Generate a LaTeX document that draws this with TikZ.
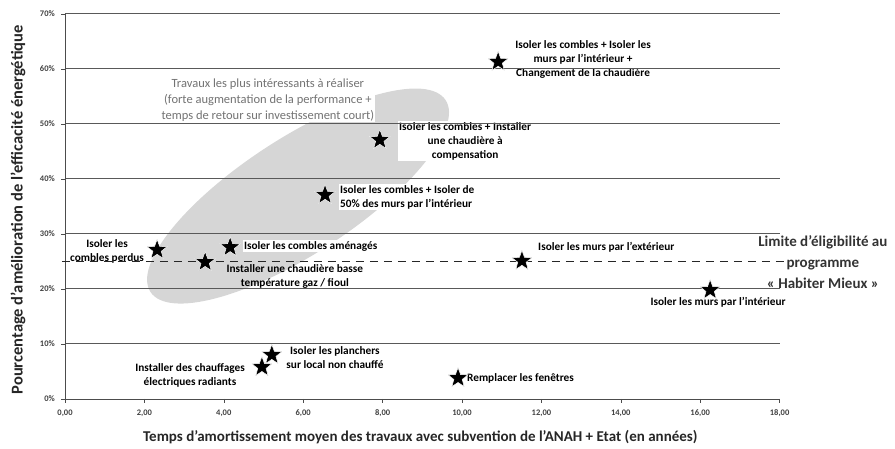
\documentclass[tikz,border=0pt]{standalone}
\usepackage{fontspec}
\setmainfont{Carlito}
\usetikzlibrary{shapes.geometric}
\usetikzlibrary{positioning}

\tikzset{
  etoile/.style={star, star points=5, star point ratio=2.4, fill=black, draw=white, line width=0.5pt, minimum size=21pt, inner sep=0pt},
  etiq/.style={font=\bfseries\fontsize{11.3}{14}\selectfont, align=center, inner sep=1pt},
  etiqfond/.style={etiq, fill=white},
  grille/.style={draw=black!65, line width=1pt},
  graduation/.style={font=\bfseries\fontsize{8.5}{9}\selectfont, text=black!75, inner sep=1pt},
}

\begin{document}
\begin{tikzpicture}[x=39.7pt, y=5.5pt]
  \useasboundingbox (-65pt,-50pt) rectangle (830pt,399pt);
  % zone grisee
  \fill[black!16, rotate around={33:(5.87,36.9)}] (5.87,36.9) ellipse (176pt and 58pt);
  \node[etiqfond, font=\fontsize{12.5}{16}\selectfont, text=black!55] (zone) at (5.11,54.4)
    {Travaux les plus intéressants à réaliser\\(forte augmentation de la performance +\\temps de retour sur investissement court)};

  % etiquettes des travaux
  \node[etiq] (t1) at (13.05,61.8) {Isoler les combles + Isoler les\\murs par l'intérieur +\\Changement de la chaudière};
  \node[etiqfond] (t2) at (10.08,46.9) {Isoler les combles + Installer\\une chaudière à\\compensation};
  \node[etiqfond, anchor=west, align=left] (t3) at (6.90,36.7) {Isoler les combles + Isoler de\\50\% des murs par l'intérieur};
  \node[etiq] (t4) at (1.06,26.9) {Isoler les\\combles perdus};
  \node[etiqfond, anchor=west] (t5) at (4.48,27.8) {Isoler les combles aménagés};
  \node[etiq] (t6) at (5.79,22.2) {Installer une chaudière basse\\température gaz / fioul};
  \node[etiq, anchor=west] (t7) at (11.89,27.6) {Isoler les murs par l'extérieur};
  \node[etiq] (t9) at (16.45,17.5) {Isoler les murs par l'intérieur};
  \node[etiq] (t10) at (6.80,7.6) {Isoler les planchers\\sur local non chauffé};
  \node[etiq] (t11) at (3.15,4.2) {Installer des chauffages\\électriques radiants};
  \node[etiq, anchor=west] (t12) at (10.10,3.8) {Remplacer les fenêtres};

  % grille et axes
  \foreach \y in {10,20,...,70} {
    \draw[grille] (0,\y) -- (18,\y);
    \draw[black!70] (0,\y) -- ++(-4pt,0);
    \node[graduation, anchor=east] (py\y) at ([xshift=-9pt]0,\y) {\y\%};
  }
  \node[graduation, anchor=east] (py0) at ([xshift=-9pt]0,0) {0\%};
  \draw[black!70, line width=0.8pt] (0,0) -- (0,70);
  \draw[black!70, line width=0.8pt] (-4pt,0) -- (18,0);
  \foreach \x in {0,2,...,18} {
    \draw[black!70] (\x,0) -- ++(0,-4pt);
    \node[graduation] (px\x) at ([yshift=-14pt]\x,0) {\x,00};
  }
  \node[font=\bfseries\fontsize{15}{17}\selectfont, text=black!85] (titrex) at ([yshift=-38pt]8.95,0)
    {Temps d’amortissement moyen des travaux avec subvention de l’ANAH + Etat (en années)};
  \node[font=\bfseries\fontsize{16.5}{18}\selectfont, text=black!85, rotate=90] (titrey) at ([xshift=-47pt]0,34.4)
    {Pourcentage d’amélioration de l’efficacité énergétique};

  % limite Habiter Mieux
  \draw[black!85, line width=1.6pt, dash pattern=on 8pt off 6pt] (-0.08,25) -- (18.1,25);
  \node[font=\bfseries\fontsize{15}{21}\selectfont, text=black!80, align=center] (limite) at (19.09,24.9)
    {Limite d’éligibilité au\\programme\\«~Habiter Mieux~»};

  % points
  \node[etoile] (s1) at (10.91,61.3) {};
  \node[etoile] (s2) at (7.93,47.1) {};
  \node[etoile] (s3) at (6.55,37.1) {};
  \node[etoile] (s4) at (2.32,27.1) {};
  \node[etoile] (s5) at (3.53,24.9) {};
  \node[etoile] (s6) at (4.16,27.6) {};
  \node[etoile] (s7) at (11.51,25.1) {};
  \node[etoile] (s8) at (16.25,19.8) {};
  \node[etoile] (s9) at (5.21,8.0) {};
  \node[etoile] (s10) at (4.96,5.8) {};
  \node[etoile] (s11) at (9.90,3.8) {};
\end{tikzpicture}
\end{document}
